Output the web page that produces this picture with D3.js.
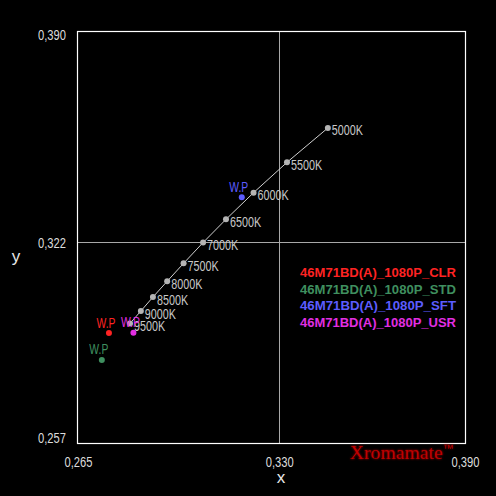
<!DOCTYPE html>
<html><head><meta charset="utf-8">
<script src="https://cdn.jsdelivr.net/npm/d3@7"></script>
<style>
html,body{margin:0;padding:0;background:#000;}
svg{display:block;}
</style></head>
<body>
<script>
// ---- data ----
const cctLabels = ["5000K","5500K","6000K","6500K","7000K","7500K","8000K","8500K","9000K","9500K"];
const cctX = [0.3457,0.3325,0.3217,0.3128,0.3054,0.2991,0.2938,0.2892,0.2853,0.2818];
const cctY = [0.3587,0.3476,0.3378,0.3292,0.3217,0.3150,0.3092,0.3041,0.2996,0.2956];

const seriesNames = ["46M71BD(A)_1080P_CLR","46M71BD(A)_1080P_STD","46M71BD(A)_1080P_SFT","46M71BD(A)_1080P_USR"];
const wpX = [0.2750,0.2727,0.3179,0.2829];
const wpY = [0.2925,0.2838,0.3363,0.2926];
const seriesColors = ["#ff2323","#3f8f5f","#5c5cff","#e22ee2"];

const xTicks = [0.265,0.330,0.390];
const yTicks = [0.257,0.322,0.390];
const xDomain = [0.265,0.390];
const yDomain = [0.257,0.390];

// ---- layout ----
const W=496,H=496;
const L=78,R=465,T=31,B=443;
const svg=d3.select("body").append("svg").attr("width",W).attr("height",H)
  .style("background","#000");
svg.append("rect").attr("width",W).attr("height",H).attr("fill","#000");

const x=d3.scaleLinear().domain(xDomain).range([L,R]);
const y=d3.scaleLinear().domain(yDomain).range([B,T]);
const fmt=v=>d3.format(".3f")(v).replace(".",",");
const font="'Liberation Sans', Arial, sans-serif";
function condense(sel,k){
  sel.each(function(){
    const w=this.getComputedTextLength();
    d3.select(this).attr("textLength",w*k).attr("lengthAdjust","spacingAndGlyphs");
  });
}

// grid lines
svg.append("g").selectAll("line").data([0.330]).join("line")
  .attr("x1",d=>Math.round(x(d))+0.5).attr("x2",d=>Math.round(x(d))+0.5)
  .attr("y1",T).attr("y2",B).attr("stroke","#a8a8a8").attr("stroke-width",1);
svg.append("g").selectAll("line").data([0.322]).join("line")
  .attr("y1",d=>Math.round(y(d))+0.5).attr("y2",d=>Math.round(y(d))+0.5)
  .attr("x1",L).attr("x2",R).attr("stroke","#a8a8a8").attr("stroke-width",1);

// frame
svg.append("rect").attr("x",L-0.5).attr("y",T+0.5).attr("width",R-L+1).attr("height",B-T)
  .attr("fill","none").attr("stroke","#fff").attr("stroke-width",1.2);

// axes
const xAxis=svg.append("g").attr("transform",`translate(0,${B+11})`)
  .call(d3.axisBottom(x).tickValues(xTicks).tickSize(0).tickFormat(fmt));
xAxis.select(".domain").remove();
xAxis.selectAll("text").attr("fill","#dcdcdc").style("font-family",font).style("font-size","14px")
  .call(condense,0.8);

const yAxis=svg.append("g").attr("transform",`translate(${L-9},0)`)
  .call(d3.axisLeft(y).tickValues(yTicks).tickSize(0).tickFormat(fmt));
yAxis.select(".domain").remove();
yAxis.selectAll("text").attr("fill","#dcdcdc").style("font-family",font).style("font-size","14px")
  .attr("dy",d=>d===0.390?"0.6em":(d===0.257?"-0.05em":"0.45em"))
  .call(condense,0.8);

// axis titles
svg.append("text").attr("x",281).attr("y",483).attr("text-anchor","middle")
  .attr("fill","#e8e8e8").style("font-family",font).style("font-size","17px").text("x");
svg.append("text").attr("x",16).attr("y",262).attr("text-anchor","middle")
  .attr("fill","#e8e8e8").style("font-family",font).style("font-size","17px").text("y");

// locus line
const cct=cctLabels.map((l,i)=>({l,x:cctX[i],y:cctY[i]}));
svg.append("path").datum(cct)
  .attr("d",d3.line().x(d=>x(d.x)).y(d=>y(d.y)))
  .attr("fill","none").attr("stroke","#d0d0d0").attr("stroke-width",1);
svg.append("g").selectAll("circle").data(cct).join("circle")
  .attr("cx",d=>x(d.x)).attr("cy",d=>y(d.y)).attr("r",3).attr("fill","#b4b4b4");
svg.append("g").selectAll("text").data(cct).join("text")
  .attr("x",d=>x(d.x)+4).attr("y",d=>y(d.y)+7.5)
  .attr("fill","#c8c8c8").style("font-family",font).style("font-size","14px")
  .text(d=>d.l).call(condense,0.77);

// white points
const wp=seriesNames.map((n,i)=>({n,x:wpX[i],y:wpY[i],c:seriesColors[i]}));
svg.append("g").selectAll("circle").data(wp).join("circle")
  .attr("cx",d=>x(d.x)).attr("cy",d=>y(d.y)).attr("r",3).attr("fill",d=>d.c);
svg.append("g").selectAll("text").data(wp).join("text")
  .attr("x",d=>x(d.x)-3).attr("y",d=>y(d.y)-5.5).attr("text-anchor","middle")
  .attr("fill",d=>d.c).style("font-family",font).style("font-size","14px")
  .text("W.P").call(condense,0.74);

// legend
svg.append("g").selectAll("text").data(wp).join("text")
  .attr("x",300).attr("y",(d,i)=>277+i*16.6)
  .attr("fill",d=>d.c).style("font-family",font)
  .style("font-size","13px").style("font-weight","bold")
  .attr("textLength",156).attr("lengthAdjust","spacingAndGlyphs")
  .text(d=>d.n);

// watermark
const defs=svg.append("defs");
const f=defs.append("filter").attr("id","glow").attr("x","-20%").attr("y","-50%").attr("width","140%").attr("height","200%");
f.append("feGaussianBlur").attr("in","SourceGraphic").attr("stdDeviation",1.2).attr("result","b");
const m=f.append("feMerge");
m.append("feMergeNode").attr("in","b");
m.append("feMergeNode").attr("in","SourceGraphic");
const wm=svg.append("g").attr("filter","url(#glow)");
wm.append("text").attr("x",350).attr("y",459)
  .attr("fill","#c00000").style("font-family","'Liberation Serif', serif").style("font-size","18px")
  .attr("textLength",93).attr("lengthAdjust","spacingAndGlyphs").text("Xromamate");
wm.append("text").attr("x",443).attr("y",452)
  .attr("fill","#c00000").style("font-family",font).style("font-size","11px")
  .text("™");
</script>
</body></html>
